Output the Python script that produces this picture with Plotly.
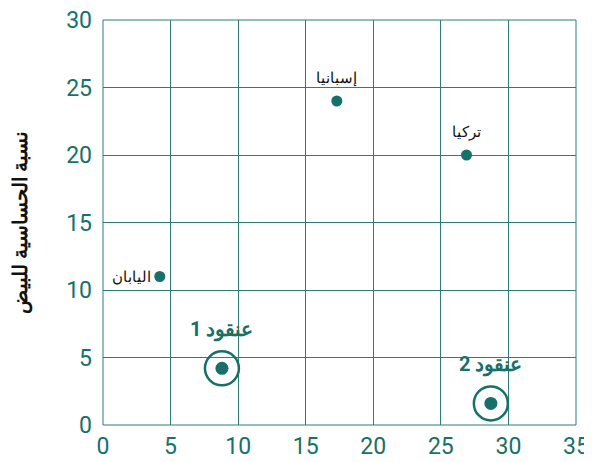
import plotly.graph_objects as go

countries = ["اليابان", "إسبانيا", "تركيا"]
country_x = [4.2, 17.3, 26.9]
country_y = [11, 24, 20]

clusters = ["عنقود 1", "عنقود 2"]
cluster_x = [8.8, 28.7]
cluster_y = [4.2, 1.6]

x_ticks = [0, 5, 10, 15, 20, 25, 30, 35]
y_ticks = [0, 5, 10, 15, 20, 25, 30]

teal = "#17706a"
grid = "#2e7d74"

fig = go.Figure()
fig.add_trace(go.Scatter(
    x=country_x, y=country_y, mode="markers",
    marker=dict(size=11, color=teal), showlegend=False, cliponaxis=False))
fig.add_trace(go.Scatter(
    x=cluster_x, y=cluster_y, mode="markers",
    marker=dict(size=13, color=teal), showlegend=False, cliponaxis=False))
fig.add_trace(go.Scatter(
    x=cluster_x, y=cluster_y, mode="markers",
    marker=dict(size=34, color="rgba(0,0,0,0)", line=dict(color=teal, width=2.5)),
    showlegend=False, cliponaxis=False))

# country labels: Japan to the left, others above
label_layout = [dict(xanchor="right", xshift=-7, yshift=0),
                dict(xanchor="center", xshift=0, yshift=23),
                dict(xanchor="center", xshift=0, yshift=23)]
for t, x, y, lay in zip(countries, country_x, country_y, label_layout):
    fig.add_annotation(x=x, y=y, text=t, showarrow=False,
                       font=dict(size=15, color="#111111", family="Roboto"), **lay)

for t, x, y in zip(clusters, cluster_x, cluster_y):
    fig.add_annotation(x=x, y=y, text="<b>%s</b>" % t, showarrow=False,
                       yshift=39, font=dict(size=20, color=teal, family="Roboto"))

fig.add_shape(type="rect", xref="paper", yref="paper", x0=0, x1=1, y0=0, y1=1,
              line=dict(color=grid, width=1), layer="below")

fig.update_xaxes(range=[0, 35], tickvals=x_ticks, showgrid=True, gridcolor=grid,
                 gridwidth=1, zeroline=False, showline=False, ticks="",
                 automargin=False, ticklabeloverflow="allow", ticklabelstandoff=5,
                 tickfont=dict(size=23, color=teal, family="Roboto"))
fig.update_yaxes(range=[0, 30], tickvals=y_ticks, showgrid=True, gridcolor=grid,
                 gridwidth=1, zeroline=False, showline=False, ticks="",
                 automargin=False, ticklabeloverflow="allow", ticklabelstandoff=10,
                 tickfont=dict(size=23, color=teal, family="Roboto"),
                 title=dict(text="<b>نسبة الحساسية للبيض</b>", standoff=36,
                            font=dict(size=20, color="#111111", family="Roboto")))
fig.update_layout(width=584, height=454, margin=dict(l=95, r=16, t=12, b=37),
                  plot_bgcolor="white", paper_bgcolor="white")
fig.write_html("out.html")
